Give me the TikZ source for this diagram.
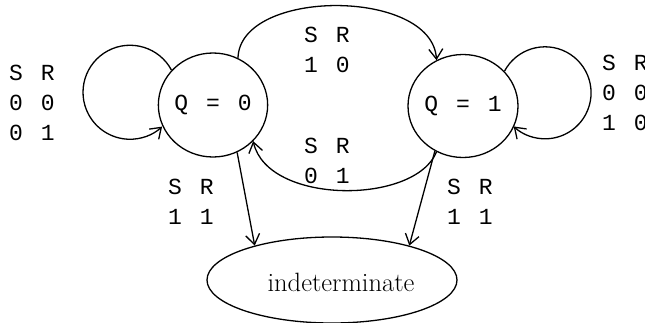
\documentclass[tikz,border=0pt]{standalone}
\usepackage{fontspec}
\newfontfamily\monof{Liberation Mono}[LetterSpace=18]
\usetikzlibrary{shapes.geometric,arrows.meta}
\begin{document}
\begin{tikzpicture}[x=1pt,y=-1pt,
  st/.style={draw,ellipse,line width=1.3pt,inner sep=0pt,font=\monof\fontsize{23}{31}\selectfont},
  lbl/.style={inner sep=0pt,anchor=north west,align=left,font=\monof\fontsize{23}{30}\selectfont},
  conn/.style={line width=1.3pt,-{Straight Barb[length=10pt,width=14pt]}},
]
\useasboundingbox (0,0) rectangle (645,322);
\node[st,minimum width=108pt,minimum height=104pt] (q0) at (213,105) {Q = 0};
\node[st,minimum width=110pt,minimum height=103pt] (q1) at (463,106) {Q = 1};
\node[draw,ellipse,line width=1.3pt,minimum width=250pt,minimum height=86pt] (ind) at (332,280) {};
\node[inner sep=0pt,font=\fontsize{26.5}{30}\selectfont] (indt) at (341,282) {indeterminate};
% labels
\node[lbl] (l0) at (9,65) {S R\\0 0\\0 1};
\node[lbl] (l1) at (602,55) {S R\\0 0\\1 0};
\node[lbl] (ltop) at (304,27) {S R\\1 0};
\node[lbl] (lbot) at (304,138) {S R\\0 1};
\node[lbl] (lleft) at (168,179) {S R\\1 1};
\node[lbl] (lright) at (447,179) {S R\\1 1};
% connectors
\draw[conn] (q0.140) arc[start angle=28, end angle=313, radius=47pt];
\draw[conn] (q1.40) arc[start angle=152, end angle=-133, radius=46pt];
\draw[conn] (q0.62) .. controls (240,-12) and (432,-12) .. (q1.120);
\draw[conn] (q1.-120) .. controls (415,205) and (268,205) .. (q0.-42);
\draw[conn] (q0.-63) -- (ind.156);
\draw[conn] (q1.-122) -- (ind.24);
\end{tikzpicture}
\end{document}
